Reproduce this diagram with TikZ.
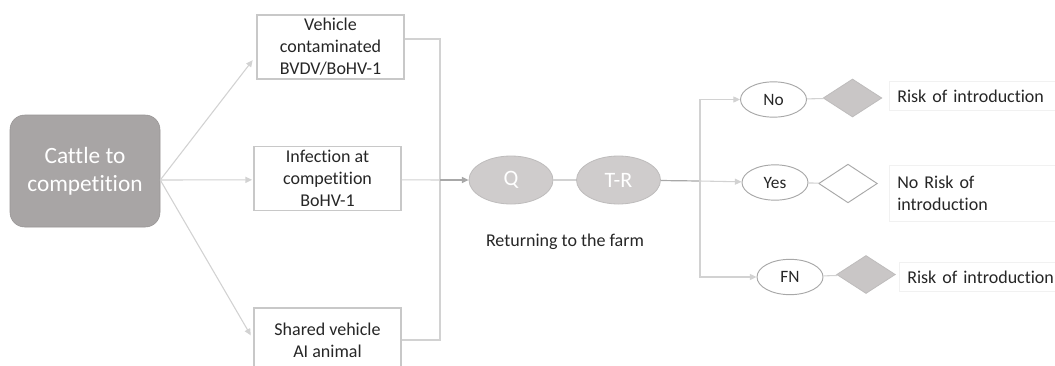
\documentclass[tikz,border=0pt]{standalone}
\usepackage{fontspec}
\setmainfont{Carlito}[Ligatures=NoCommon]
\usetikzlibrary{arrows.meta,shapes.geometric}
\definecolor{boxline}{HTML}{C8C8C8}
\definecolor{thinline}{HTML}{D2D2D2}
\definecolor{darkline}{HTML}{A8A8A8}
\definecolor{cattlefill}{HTML}{A8A5A5}
\definecolor{ovalfill}{HTML}{CFCCCC}
\definecolor{ovalline}{HTML}{BEBCBC}
\definecolor{diamfill}{HTML}{C9C6C6}
\definecolor{inktext}{HTML}{262626}
\definecolor{faintline}{HTML}{F1F1F1}
\tikzset{
  every node/.style={font=\fontsize{13.5}{16.5}\selectfont, text=inktext},
  cattlebox/.style={rectangle, rounded corners=11pt, fill=cattlefill, draw=cattlefill!90!black,
    minimum width=112.5pt, minimum height=84pt, align=center, text=white,
    font=\fontsize{17.5}{21}\selectfont},
  pathbox/.style={rectangle, draw=boxline, line width=0.8pt, fill=white,
    minimum width=110.25pt, minimum height=48pt, align=center, inner sep=1pt},
  stageoval/.style={ellipse, fill=ovalfill, draw=ovalline, line width=0.6pt,
    minimum width=63pt, minimum height=36pt, inner sep=0pt, text=white,
    font=\fontsize{16.5}{18}\selectfont},
  answeroval/.style={ellipse, fill=white, draw=darkline, line width=0.7pt,
    minimum width=49.5pt, minimum height=26.5pt, inner sep=0pt,
    font=\fontsize{13}{15}\selectfont},
  riskdiam/.style={diamond, fill=diamfill, draw=ovalline, line width=0.6pt,
    minimum width=44pt, minimum height=28.5pt, inner sep=0pt},
  saferdiam/.style={diamond, fill=white, draw=darkline, line width=0.7pt,
    minimum width=44pt, minimum height=29pt, inner sep=0pt},
  outcome/.style={rectangle, draw=faintline, fill=white, anchor=west,
    align=left, text width=114pt, minimum height=22pt, inner xsep=6pt},
  link/.style={draw=thinline, line width=0.8pt},
  darklink/.style={draw=darkline, line width=0.9pt},
  tip/.style={-{Triangle[length=5pt,width=4.5pt]}},
}
\begin{document}
\begin{tikzpicture}[x=0.75pt, y=-0.75pt]
  \useasboundingbox (0,0) rectangle (1055,365);
  \clip (0,0) rectangle (1055,365);
  \fill[white] (0,0) rectangle (1055,365);

  % source and the three contamination routes
  \node[cattlebox] (cattle) at (85,171) {Cattle to\\competition};
  \node[pathbox] (b1) at (330.5,47) {Vehicle\\contaminated\\BVDV/BoHV-1};
  \node[pathbox] (b2) at (327.5,178.5) {Infection at\\competition\\BoHV-1};
  \node[pathbox] (b3) at (327.5,340) {Shared vehicle\\AI animal};

  \draw[link, tip, shorten >=3pt] ([yshift=-6.75pt]cattle.east) -- ([xshift=-1pt,yshift=-7.5pt]b1.west);
  \draw[link, tip, shorten >=1pt] ([yshift=-6.75pt]cattle.east) -- ([yshift=-1pt]b2.west);
  \draw[link, tip, shorten >=4pt] ([yshift=-6.75pt]cattle.east) -- (b3.west);

  % routes merge on the way home
  \coordinate (merge) at (440,180);
  \draw[link] ([yshift=6pt]b1.east) -| (merge);
  \draw[link] (b3.east) -| (merge);
  \draw[link] ([yshift=-1pt]b2.east) -- (merge);

  \node[stageoval] (q) at (511,180) {Q};
  \node[stageoval] (tr) at (618.5,180) {T-R};
  \node (ret) at (565,242) {Returning to the farm};

  \draw[darklink, tip] (merge) -- (q);
  \draw[link] (q) -- (tr);

  % test outcomes
  \coordinate (split) at (700,181);
  \draw[darklink] (tr) -- (split);

  \node[answeroval] (no) at (773.5,99.5) {No};
  \node[answeroval] (yes) at (775,182.5) {Yes};
  \node[answeroval] (fn) at (790,277) {FN};

  \draw[link, tip] (split) |- (no);
  \draw[link, tip] (split) -- (yes);
  \draw[link, tip] (split) |- (fn);

  \node[riskdiam] (dno) at (852.5,98) {};
  \node[saferdiam] (dyes) at (848,183.5) {};
  \node[riskdiam] (dfn) at (866,274.5) {};

  \draw[link] (no) -- (dno);
  \draw[link] (yes) -- (dyes);
  \draw[link] (fn) -- (dfn);

  \node[outcome] (rno) at (889,96) {Risk of introduction};
  \node[outcome, minimum height=42pt] (ryes) at (889,193) {No Risk of\\introduction};
  \node[outcome] (rfn) at (899,277) {Risk of introduction};
\end{tikzpicture}
\end{document}
